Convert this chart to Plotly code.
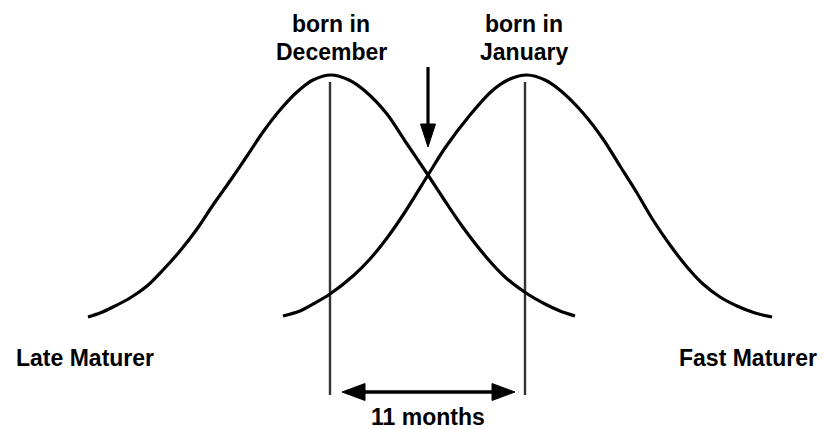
import plotly.graph_objects as go

# ---- data (in picture units) ----
late_x = [88, 100, 113, 130, 147, 163, 180, 197, 213, 230, 247, 263, 280, 297, 313, 331,
          349, 365, 387, 405, 428, 445, 462, 487, 505, 526, 545, 560, 575]
late_y = [317, 313, 307, 298, 286, 270, 251, 229, 205, 181, 156, 132, 110, 92, 80, 75,
          80, 91, 114, 141, 175, 201, 226, 258, 277, 293, 304, 311, 316]

fast_x = [283, 300, 315, 330, 353, 370, 387, 405, 428, 445, 470, 493, 510, 527,
          545, 561, 583, 603, 620, 637, 653, 670, 687, 703, 720, 737, 755, 772]
fast_y = [316, 311, 303, 294, 276, 259, 238, 212, 175, 148, 115, 90, 79, 75,
          80, 91, 113, 139, 166, 193, 220, 245, 267, 284, 297, 306, 313, 317]

birth_x = [330, 525]                     # December / January reference lines
line_top, line_bottom = 82, 395

label_top = ["born in", "born in"]
label_bottom = ["December", "January"]
label_x = [331, 524]

side_labels = ["Late Maturer", "Fast Maturer"]
side_x = [85, 748]
side_y = 358

cross_x = 428
gap_label = "11 months"
gap_from, gap_to, gap_y = 342, 515, 392

W, H = 824, 429
FONT = "Liberation Sans, Arial, sans-serif"
FS = 23

fig = go.Figure()
for xs, ys in [(late_x, late_y), (fast_x, fast_y)]:
    fig.add_trace(go.Scatter(x=xs, y=ys, mode="lines",
                             line=dict(color="black", width=3.2, shape="spline", smoothing=0.8),
                             hoverinfo="skip", showlegend=False))

shapes = []
for bx in birth_x:
    shapes.append(dict(type="line", x0=bx, x1=bx, y0=line_top, y1=line_bottom,
                       line=dict(color="#333333", width=2.4), layer="below"))

# down arrow at crossing
shapes.append(dict(type="line", x0=cross_x, x1=cross_x, y0=67, y1=128,
                   line=dict(color="black", width=3.2)))
shapes.append(dict(type="path",
                   path=f"M {cross_x-7.5},124 L {cross_x+7.5},124 L {cross_x},147 Z",
                   fillcolor="black", line=dict(color="black", width=1)))

# double arrow
shapes.append(dict(type="line", x0=gap_from + 18, x1=gap_to - 18, y0=gap_y, y1=gap_y,
                   line=dict(color="black", width=3.6)))
shapes.append(dict(type="path",
                   path=f"M {gap_from},{gap_y} L {gap_from+23},{gap_y-8.5} L {gap_from+23},{gap_y+8.5} Z",
                   fillcolor="black", line=dict(color="black", width=1)))
shapes.append(dict(type="path",
                   path=f"M {gap_to},{gap_y} L {gap_to-23},{gap_y-8.5} L {gap_to-23},{gap_y+8.5} Z",
                   fillcolor="black", line=dict(color="black", width=1)))

annotations = []
for t, b, lx in zip(label_top, label_bottom, label_x):
    annotations.append(dict(x=lx, y=24, text=f"<b>{t}</b>", showarrow=False,
                            xanchor="center", yanchor="middle",
                            font=dict(family=FONT, size=FS, color="black")))
    annotations.append(dict(x=lx, y=52, text=f"<b>{b}</b>", showarrow=False,
                            xanchor="center", yanchor="middle",
                            font=dict(family=FONT, size=FS, color="black")))
for t, sx in zip(side_labels, side_x):
    annotations.append(dict(x=sx, y=side_y, text=f"<b>{t}</b>", showarrow=False,
                            xanchor="center", yanchor="middle",
                            font=dict(family=FONT, size=FS, color="black")))
annotations.append(dict(x=cross_x, y=417, text=f"<b>{gap_label}</b>", showarrow=False,
                        xanchor="center", yanchor="middle",
                        font=dict(family=FONT, size=FS, color="black")))

fig.update_layout(
    width=W, height=H,
    margin=dict(l=0, r=0, t=0, b=0),
    paper_bgcolor="white", plot_bgcolor="white",
    xaxis=dict(range=[0, W], visible=False, fixedrange=True),
    yaxis=dict(range=[H, 0], visible=False, fixedrange=True),
    shapes=shapes, annotations=annotations,
    showlegend=False,
)

fig.write_html("out.html", config={"displayModeBar": False},
               post_script="document.body.style.margin='0';document.body.style.overflow='hidden';")
